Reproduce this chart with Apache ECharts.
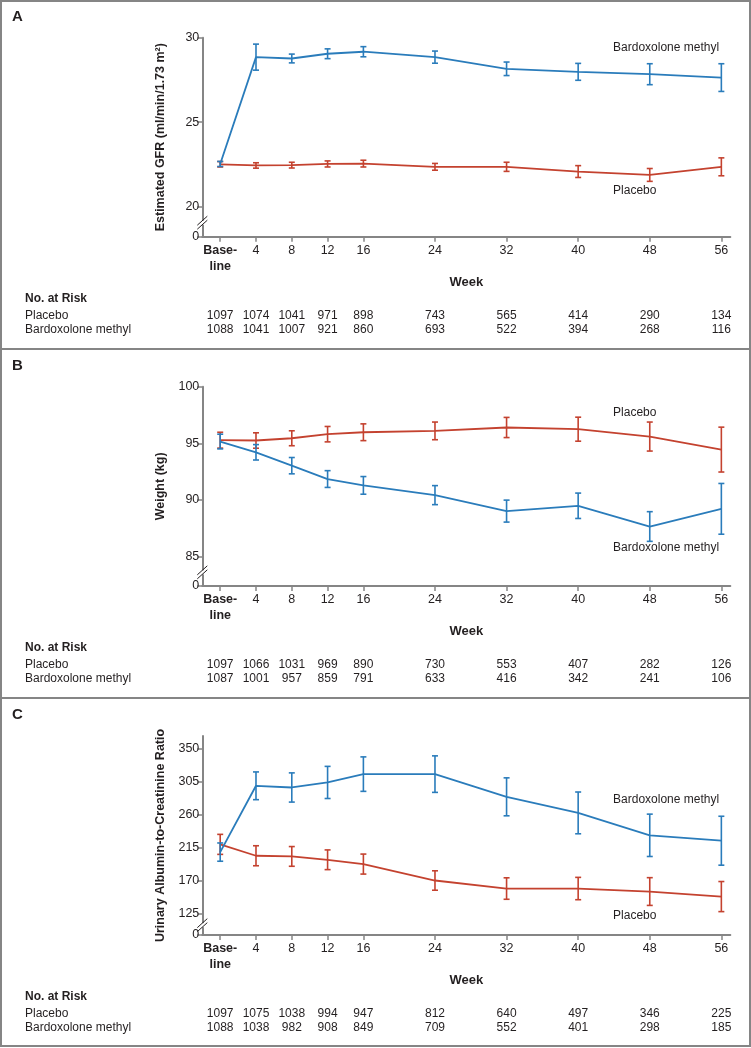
<!DOCTYPE html>
<html><head><meta charset="utf-8">
<script src="https://cdn.jsdelivr.net/npm/echarts@6.0.0/dist/echarts.min.js"></script>
<style>html,body{margin:0;padding:0;background:#fff}#c{width:751px;height:1048px}</style>
</head><body><div id="c"></div>
<script>
// ---------- data ----------
const weeks = [0, 4, 8, 12, 16, 24, 32, 40, 48, 56];

// Panel A: estimated GFR
const gfrPlacebo   = [22.51, 22.44, 22.46, 22.53, 22.55, 22.36, 22.36, 22.08, 21.88, 22.36];
const gfrPlaceboSE = [0.16, 0.16, 0.17, 0.18, 0.20, 0.20, 0.27, 0.35, 0.38, 0.53];
const gfrBardox    = [22.53, 28.85, 28.77, 29.05, 29.17, 28.85, 28.16, 27.98, 27.84, 27.64];
const gfrBardoxSE  = [0.15, 0.77, 0.26, 0.29, 0.30, 0.36, 0.40, 0.50, 0.62, 0.82];
const gfrTicks = [20, 25, 30];

// Panel B: weight
const wtPlacebo   = [95.28, 95.25, 95.45, 95.81, 95.98, 96.10, 96.40, 96.25, 95.60, 94.45];
const wtPlaceboSE = [0.70, 0.68, 0.66, 0.68, 0.74, 0.78, 0.89, 1.06, 1.28, 1.98];
const wtBardox    = [95.16, 94.21, 93.03, 91.85, 91.29, 90.43, 89.02, 89.49, 87.66, 89.22];
const wtBardoxSE  = [0.65, 0.68, 0.72, 0.74, 0.78, 0.84, 0.97, 1.12, 1.31, 2.24];
const wtTicks = [85, 90, 95, 100];

// Panel C: urinary albumin-to-creatinine ratio
const uacrPlacebo   = [219.4, 203.8, 202.9, 198.3, 192.4, 169.9, 158.9, 158.9, 154.8, 147.9];
const uacrPlaceboSE = [13.7, 13.7, 13.5, 13.5, 13.7, 13.3, 14.7, 15.3, 19.0, 20.6];
const uacrBardox    = [208.8, 299.6, 297.3, 304.2, 315.6, 315.6, 284.5, 262.5, 231.8, 224.4];
const uacrBardoxSE  = [12.5, 19.0, 20.0, 22.0, 23.6, 25.0, 26.0, 28.6, 29.0, 33.5];
const uacrTicks = [125, 170, 215, 260, 305, 350];

// Numbers at risk
const riskAPlacebo = [1097, 1074, 1041, 971, 898, 743, 565, 414, 290, 134];
const riskABardox  = [1088, 1041, 1007, 921, 860, 693, 522, 394, 268, 116];
const riskBPlacebo = [1097, 1066, 1031, 969, 890, 730, 553, 407, 282, 126];
const riskBBardox  = [1087, 1001, 957, 859, 791, 633, 416, 342, 241, 106];
const riskCPlacebo = [1097, 1075, 1038, 994, 947, 812, 640, 497, 346, 225];
const riskCBardox  = [1088, 1038, 982, 908, 849, 709, 552, 401, 298, 185];

const panelLetters = ['A', 'B', 'C'];
const yTitles = ['Estimated GFR (ml/min/1.73 m²)', 'Weight (kg)', 'Urinary Albumin-to-Creatinine Ratio'];
const seriesNames = ['Placebo', 'Bardoxolone methyl'];

// ---------- styling / layout ----------
const FONT = '"Liberation Sans", Arial, sans-serif';
const TXT = '#231f20';
const AX = '#858585';
const BLUE = '#2a7cbb';
const RED = '#c4422f';

const panels = [
  { top: 37.7, height: 199, min: 18.225, max: 30, ticks: gfrTicks,
    pl: gfrPlacebo, plSE: gfrPlaceboSE, bx: gfrBardox, bxSE: gfrBardoxSE,
    riskP: riskAPlacebo, riskB: riskABardox, labB: [43.9, 29.39], labP: [43.9, 20.93], letterY: 17 },
  { top: 386.7, height: 199.3, min: 82.41, max: 100, ticks: wtTicks,
    pl: wtPlacebo, plSE: wtPlaceboSE, bx: wtBardox, bxSE: wtBardoxSE,
    riskP: riskBPlacebo, riskB: riskBBardox, labB: [43.9, 85.77], labP: [43.9, 97.68], letterY: 366 },
  { top: 736, height: 199, min: 95.28, max: 367.8, ticks: uacrTicks,
    pl: uacrPlacebo, plSE: uacrPlaceboSE, bx: uacrBardox, bxSE: uacrBardoxSE,
    riskP: riskCPlacebo, riskB: riskCBardox, labB: [43.9, 280.2], labP: [43.9, 121.3], letterY: 715 }
];
const GRID_LEFT = 202.3, GRID_W = 528;

function errRender(params, api) {
  const x = api.value(0), lo = api.value(1), hi = api.value(2);
  const a = api.coord([x, lo]), b = api.coord([x, hi]);
  const w = 3;
  const style = { stroke: api.visual('color'), lineWidth: 1.6 };
  return { type: 'group', children: [
    { type: 'line', shape: { x1: a[0], y1: a[1], x2: b[0], y2: b[1] }, style },
    { type: 'line', shape: { x1: a[0] - w, y1: a[1], x2: a[0] + w, y2: a[1] }, style },
    { type: 'line', shape: { x1: b[0] - w, y1: b[1], x2: b[0] + w, y2: b[1] }, style }
  ]};
}

const grid = [], xAxis = [], yAxis = [], series = [];
panels.forEach((p, i) => {
  grid.push({ left: GRID_LEFT, top: p.top, width: GRID_W, height: p.height });
  xAxis.push({
    gridIndex: i, type: 'value', min: -2, max: 57,
    axisLine: { show: true, onZero: false, lineStyle: { color: AX, width: 2 } },
    axisTick: { show: true, customValues: weeks, length: 5, lineStyle: { color: AX, width: 1.5 } },
    axisLabel: {
      customValues: weeks, margin: 6, color: TXT, fontFamily: FONT, fontSize: 12.5, lineHeight: 16,
      formatter: v => v === 0 ? '{b|Base-}\n{b|line}' : String(v),
      rich: { b: { fontWeight: 'bold', fontFamily: FONT, fontSize: 12.5, lineHeight: 16, color: TXT } }
    },
    splitLine: { show: false },
    name: 'Week', nameLocation: 'middle', nameGap: 23,
    nameTextStyle: { fontWeight: 'bold', fontFamily: FONT, fontSize: 13, color: TXT }
  });
  const tv = [p.min].concat(p.ticks);
  yAxis.push({
    gridIndex: i, type: 'value', min: p.min, max: p.max,
    axisLine: { show: true, onZero: false, lineStyle: { color: AX, width: 2 } },
    axisTick: { show: true, customValues: tv, length: 5, lineStyle: { color: AX, width: 1.5 } },
    axisLabel: {
      customValues: tv, margin: 3, color: TXT, fontFamily: FONT, fontSize: 12.5,
      formatter: v => Math.abs(v - p.min) < 1e-6 ? '0' : String(v)
    },
    splitLine: { show: false },
    name: yTitles[i], nameLocation: 'middle', nameGap: 35,
    nameTextStyle: { fontWeight: 'bold', fontFamily: FONT, fontSize: 12.5, color: TXT }
  });
  const mk = (arr) => weeks.map((w, k) => [w, arr[k]]);
  const mkErr = (arr, se) => weeks.map((w, k) => [w, arr[k] - se[k], arr[k] + se[k]]);
  series.push(
    { type: 'line', name: seriesNames[0], xAxisIndex: i, yAxisIndex: i, data: mk(p.pl),
      symbol: 'none', lineStyle: { color: RED, width: 1.8 }, itemStyle: { color: RED }, z: 3 },
    { type: 'line', name: seriesNames[1], xAxisIndex: i, yAxisIndex: i, data: mk(p.bx),
      symbol: 'none', lineStyle: { color: BLUE, width: 1.8 }, itemStyle: { color: BLUE }, z: 3 },
    { type: 'custom', xAxisIndex: i, yAxisIndex: i, data: mkErr(p.pl, p.plSE),
      encode: { x: 0, y: [1, 2] }, renderItem: errRender, itemStyle: { color: RED }, z: 4 },
    { type: 'custom', xAxisIndex: i, yAxisIndex: i, data: mkErr(p.bx, p.bxSE),
      encode: { x: 0, y: [1, 2] }, renderItem: errRender, itemStyle: { color: BLUE }, z: 4 }
  );
});

const chart = echarts.init(document.getElementById('c'), null, { renderer: 'canvas' });
chart.setOption({ animation: false, backgroundColor: '#fff', grid, xAxis, yAxis, series });

// ---------- overlays: frame, letters, labels, break marks, table ----------
const g = [];
const txt = (text, x, y, opt) => Object.assign({
  type: 'text', x, y, z: 20,
  style: Object.assign({ text, fill: TXT, font: '12px ' + FONT, textAlign: 'left', textVerticalAlign: 'middle' }, opt || {})
});
g.push({ type: 'rect', z: 30, shape: { x: 1, y: 1, width: 749, height: 1045 }, style: { fill: null, stroke: AX, lineWidth: 2 } });
g.push({ type: 'line', z: 30, shape: { x1: 1, y1: 349, x2: 750, y2: 349 }, style: { stroke: AX, lineWidth: 2 } });
g.push({ type: 'line', z: 30, shape: { x1: 1, y1: 698, x2: 750, y2: 698 }, style: { stroke: AX, lineWidth: 2 } });

panels.forEach((p, i) => {
  g.push(txt(panelLetters[i], 12, p.letterY, { font: 'bold 15px ' + FONT }));
  const pb = chart.convertToPixel({ gridIndex: i }, p.labB);
  const pp = chart.convertToPixel({ gridIndex: i }, p.labP);
  g.push(txt(seriesNames[1], pb[0], pb[1]));
  g.push(txt(seriesNames[0], pp[0], pp[1]));
  // axis break marks
  const ym = chart.convertToPixel({ yAxisIndex: i }, (p.min + p.ticks[0]) / 2) + 1;
  const x0 = GRID_LEFT;
  g.push({ type: 'rect', z: 25, shape: { x: x0 - 3, y: ym - 2, width: 6, height: 4 }, style: { fill: '#fff' } });
  g.push({ type: 'line', z: 26, shape: { x1: x0 - 5, y1: ym + 2.5, x2: x0 + 5, y2: ym - 6.5 }, style: { stroke: TXT, lineWidth: 1 } });
  g.push({ type: 'line', z: 26, shape: { x1: x0 - 5, y1: ym + 6.5, x2: x0 + 5, y2: ym - 2.5 }, style: { stroke: TXT, lineWidth: 1 } });
  // table
  const axisY = chart.convertToPixel({ yAxisIndex: i }, p.min);
  g.push(txt('No. at Risk', 25, axisY + 61.5, { font: 'bold 12px ' + FONT }));
  g.push(txt(seriesNames[0], 25, axisY + 78.5));
  g.push(txt(seriesNames[1], 25, axisY + 93));
  weeks.forEach((w, k) => {
    const x = chart.convertToPixel({ xAxisIndex: i }, w);
    g.push(txt(String(p.riskP[k]), x, axisY + 78.5, { textAlign: 'center' }));
    g.push(txt(String(p.riskB[k]), x, axisY + 93, { textAlign: 'center' }));
  });
});
chart.setOption({ graphic: g });
</script>
</body></html>
